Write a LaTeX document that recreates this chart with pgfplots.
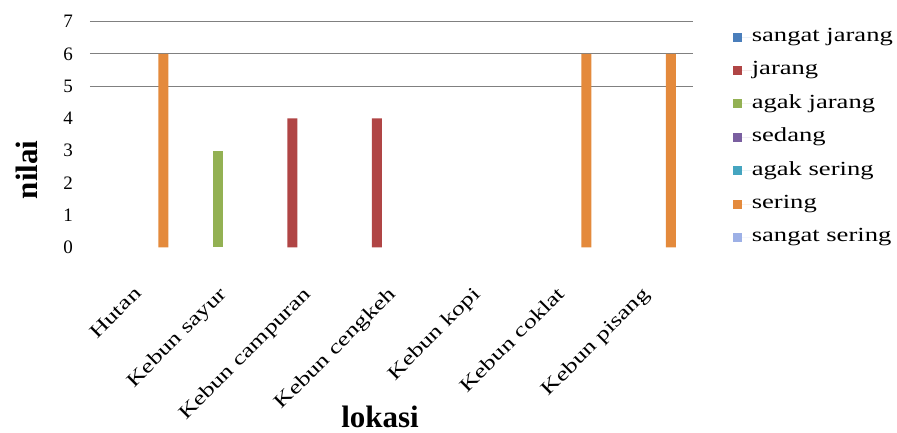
\documentclass[border=0pt]{standalone}
\usepackage{pgfplots}
\pgfplotsset{compat=1.18}
\usepackage{fontspec}
\setmainfont{Liberation Serif}
\newfontfamily\sfont{Liberation Serif}[FakeStretch=1.33]
\definecolor{cBlue}{HTML}{4A7EBB}
\definecolor{cRed}{HTML}{B04545}
\definecolor{cGreen}{HTML}{93B153}
\definecolor{cPurple}{HTML}{7A5FA0}
\definecolor{cAqua}{HTML}{45A5C0}
\definecolor{cOrange}{HTML}{E48A3C}
\definecolor{cLight}{HTML}{9DB0E6}
\pgfplotsset{sq/.style={legend image code/.code={\fill[##1] (0bp,-4.5bp) rectangle (9bp,4.5bp); \path (0bp,0bp) -- (19bp,0bp);}}}
\begin{document}
\begin{tikzpicture}
\path[use as bounding box] (-90bp,-185.7bp) rectangle (807bp,247.3bp);
\begin{axis}[
  at={(0,0)}, anchor=south west,
  scale only axis,
  width=603bp, height=225.6bp,
  ybar, bar width=0.118,
  xmin=-0.63, xmax=6.5,
  ymin=0, ymax=7,
  ytick={0,1,2,3,4,5,6,7},
  xtick={0,1,2,3,4,5,6},
  xticklabels={Hutan, Kebun sayur, Kebun campuran, Kebun cengkeh, Kebun kopi, Kebun coklat, Kebun pisang},
  axis line style={draw=none},
  tick style={draw=none},
  major tick length=0pt,
  extra y ticks={5,6,7},
  extra y tick labels={},
  extra y tick style={grid=major, major grid style={draw=black!50, line width=1.1bp}},
  /pgf/number format/assume math mode=true,
  yticklabel style={font=\fontsize{19bp}{19bp}\selectfont, anchor=east, inner sep=0pt, xshift=-17bp},
  xticklabel style={font=\sfont\fontsize{19.5bp}{19.5bp}\selectfont, xshift=-10bp, yshift=-38bp, rotate=45, anchor=north east, inner sep=0pt},
  xlabel={lokasi},
  xlabel style={font=\bfseries\fontsize{31bp}{31bp}\selectfont, at={(axis description cs:0.481,-0.80)}, anchor=base, inner sep=0pt},
  ylabel={nilai},
  ylabel style={font=\bfseries\fontsize{31bp}{31bp}\selectfont, at={(axis description cs:-0.1045,0.343)}, anchor=center, inner sep=0pt},
  legend style={at={(axis description cs:1.066,0.974)}, anchor=north west, draw=none, fill=none,
    inner sep=0pt, outer sep=0pt, row sep=14.4bp,
    font=\sfont\fontsize{20bp}{20bp}\selectfont,
    nodes={inner xsep=0pt, inner ysep=0pt, text height=14bp, text depth=5bp}},
  legend cell align=left,
]
\addlegendimage{sq, fill=cBlue, draw=none}
\addlegendentry{sangat jarang}
\addplot[sq, fill=cRed, draw=none, bar shift=-0.238] coordinates {(2,4) (3,4)};
\addlegendentry{jarang}
\addplot[sq, fill=cGreen, draw=none, bar shift=-0.119] coordinates {(1,3)};
\addlegendentry{agak jarang}
\addlegendimage{sq, fill=cPurple, draw=none}
\addlegendentry{sedang}
\addlegendimage{sq, fill=cAqua, draw=none}
\addlegendentry{agak sering}
\addplot[sq, fill=cOrange, draw=none, bar shift=0.238] coordinates {(0,6) (5,6) (6,6)};
\addlegendentry{sering}
\addlegendimage{sq, fill=cLight, draw=none}
\addlegendentry{sangat sering}
\end{axis}
\end{tikzpicture}
\end{document}
